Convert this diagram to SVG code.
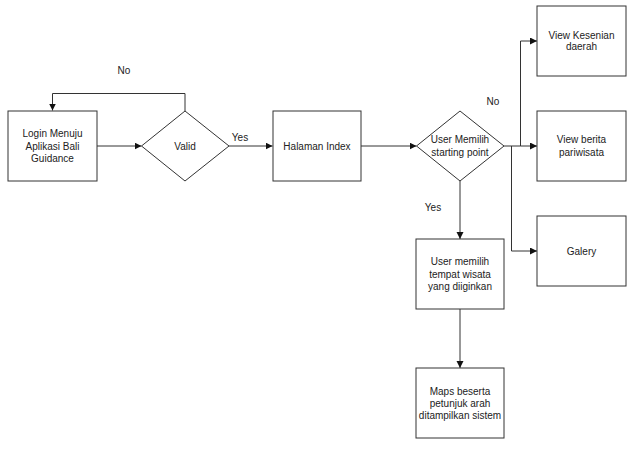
<svg xmlns="http://www.w3.org/2000/svg" width="632" height="450" viewBox="0 0 632 450">
<style>
.box{fill:#fff;stroke:#333;stroke-width:1}
.ln{fill:none;stroke:#333;stroke-width:1}
text{font-family:"Liberation Sans",Arial,sans-serif;font-size:10px;fill:#222;text-anchor:middle}
</style>
<defs>
<marker id="ah" markerWidth="8" markerHeight="8" refX="7" refY="3.5" orient="auto" markerUnits="userSpaceOnUse">
<path d="M0,0 L7,3.5 L0,7 z" fill="#111"/>
</marker>
</defs>
<rect width="632" height="450" fill="#fff"/>
<g id="connectors">
<path class="ln" d="M185,111 V93.5 H52.5 V110.5" marker-end="url(#ah)"/>
<path class="ln" d="M97,146 H141.5" marker-end="url(#ah)"/>
<path class="ln" d="M229,146 H272.5" marker-end="url(#ah)"/>
<path class="ln" d="M361,146 H416.5" marker-end="url(#ah)"/>
<path class="ln" d="M504,146 H520.5 V41 H537" marker-end="url(#ah)"/>
<path class="ln" d="M520.5,146 H537" marker-end="url(#ah)"/>
<path class="ln" d="M511.5,146 V251 H537" marker-end="url(#ah)"/>
<path class="ln" d="M460,181 V239" marker-end="url(#ah)"/>
<path class="ln" d="M460,309 V368" marker-end="url(#ah)"/>
<text x="124" y="73.5">No</text>
<text x="240" y="141">Yes</text>
<text x="493" y="105">No</text>
<text x="433" y="210.5">Yes</text>
</g>
<g id="login">
<rect class="box" x="8" y="111" width="89" height="70"/>
<text x="52.5" y="137">Login Menuju</text>
<text x="52.5" y="149.5">Aplikasi Bali</text>
<text x="52.5" y="162">Guidance</text>
</g>
<g id="valid">
<polygon class="box" points="185,111 229,146 185,181 141.5,146"/>
<text x="185" y="149.5">Valid</text>
</g>
<g id="halaman">
<rect class="box" x="273" y="111" width="88" height="70"/>
<text x="317" y="149.5">Halaman Index</text>
</g>
<g id="pilih">
<polygon class="box" points="460,111 504,146 460,181 416.5,146"/>
<text x="460" y="143">User Memilih</text>
<text x="460" y="156">starting point</text>
</g>
<g id="kesenian">
<rect class="box" x="537" y="6" width="89" height="70"/>
<text x="581.5" y="38.5">View Kesenian</text>
<text x="581.5" y="50">daerah</text>
</g>
<g id="berita">
<rect class="box" x="537" y="111" width="89" height="70"/>
<text x="581.5" y="143">View berita</text>
<text x="581.5" y="156">pariwisata</text>
</g>
<g id="galery">
<rect class="box" x="537" y="216" width="89" height="70"/>
<text x="581.5" y="254.5">Galery</text>
</g>
<g id="tempat">
<rect class="box" x="416" y="239" width="88" height="70"/>
<text x="460" y="265">User memilih</text>
<text x="460" y="277.5">tempat wisata</text>
<text x="460" y="290">yang diiginkan</text>
</g>
<g id="maps">
<rect class="box" x="416" y="368" width="88" height="70"/>
<text x="460" y="394.5">Maps beserta</text>
<text x="460" y="406.5">petunjuk arah</text>
<text x="460" y="418.5">ditampilkan sistem</text>
</g>
</svg>
